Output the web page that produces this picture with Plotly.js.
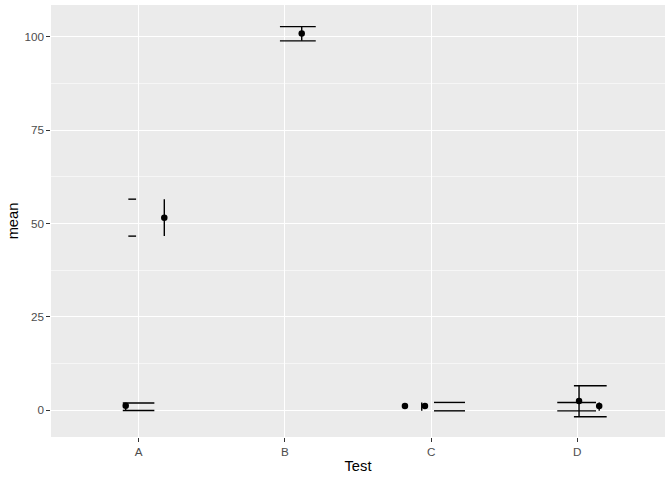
<!DOCTYPE html>
<html>
<head>
<meta charset="utf-8">
<script src="https://cdn.plot.ly/plotly-3.0.1.min.js"></script>
<style>html,body{margin:0;padding:0;background:#fff;}#chart{width:672px;height:480px;}</style>
</head>
<body>
<div id="chart"></div>
<script>
// ---- data ----
const categories = ['A', 'B', 'C', 'D'];
const tests  = ['A', 'A', 'B', 'C', 'C', 'D', 'D'];
const means  = [1.15, 51.5, 100.9, 1.07, 1.07, 2.41, 1.1];
const lowers = [-0.1, 46.6, 98.9, null, -0.19, -1.79, -0.19];
const uppers = [1.9, 56.5, 102.7, null, 2.06, 6.51, 2.06];
const yTicks = [0, 25, 50, 75, 100];

// ---- dodge offsets (layout, in category units) ----
const pointOffset = [-0.089, 0.175, 0.115, -0.179, -0.042, 0.012, 0.150];
const stemOffset  = [-0.089, 0.175, 0.115, null, -0.064, 0.012, 0.150];
const capMinOff   = [-0.109, -0.071, -0.034, null, 0.020, -0.023, -0.137];
const capMaxOff   = [0.107, -0.018, 0.211, null, 0.232, 0.201, 0.128];

const catPos = t => categories.indexOf(t) + 1;

// error bars as line segments
const ex = [], ey = [];
tests.forEach((t, i) => {
  if (lowers[i] === null) return;
  const c = catPos(t);
  const xs = c + stemOffset[i], x0 = c + capMinOff[i], x1 = c + capMaxOff[i];
  ex.push(xs, xs, null, x0, x1, null, x0, x1, null);
  ey.push(lowers[i], uppers[i], null, uppers[i], uppers[i], null, lowers[i], lowers[i], null);
});

const traces = [
  {
    type: 'scatter', mode: 'lines', x: ex, y: ey,
    line: {color: '#000', width: 1.4}, hoverinfo: 'skip', showlegend: false, connectgaps: false
  },
  {
    type: 'scatter', mode: 'markers',
    x: tests.map((t, i) => catPos(t) + pointOffset[i]), y: means,
    marker: {color: '#000', size: 6.5}, showlegend: false
  }
];

const font = "'Liberation Sans', Arial, Helvetica, sans-serif";
const layout = {
  width: 672, height: 480,
  margin: {l: 51, r: 7, t: 5, b: 43},
  paper_bgcolor: '#ffffff', plot_bgcolor: '#ebebeb',
  font: {family: font},
  showlegend: false,
  xaxis: {
    range: [0.4, 4.6], tickvals: categories.map((c, i) => i + 1), ticktext: categories,
    showgrid: true, gridcolor: '#ffffff', gridwidth: 1.1, zeroline: false, showline: false,
    ticks: 'outside', ticklen: 3.7, tickwidth: 1.1, tickcolor: '#333333',
    tickfont: {size: 11.7, color: '#4d4d4d', family: font},
    title: {text: 'Test', font: {size: 14.7, color: '#000', family: font}, standoff: 3}
  },
  yaxis: {
    range: [-7.2, 108.5], tickvals: yTicks, ticktext: yTicks.map(String),
    showgrid: true, gridcolor: '#ffffff', gridwidth: 1.1, zeroline: false, showline: false,
    ticks: 'outside', ticklen: 3.7, tickwidth: 1.1, tickcolor: '#333333',
    tickfont: {size: 11.7, color: '#4d4d4d', family: font},
    minor: {tickvals: [12.5, 37.5, 62.5, 87.5], showgrid: true, gridcolor: '#ffffff', gridwidth: 0.55, ticks: ''},
    title: {text: 'mean', font: {size: 14.7, color: '#000', family: font}, standoff: 2}
  }
};

Plotly.newPlot('chart', traces, layout, {staticPlot: true, displayModeBar: false});
</script>
</body>
</html>
